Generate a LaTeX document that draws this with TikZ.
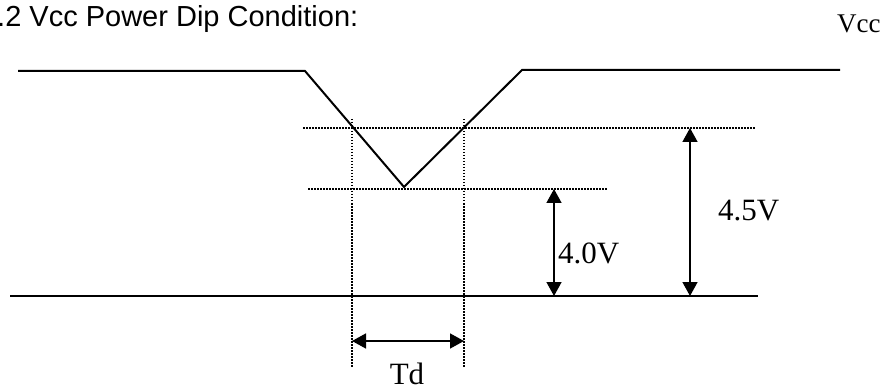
\documentclass[tikz,border=0pt]{standalone}
\usepackage{fontspec}
\setmainfont{Liberation Serif}
\newfontfamily\arialfont{Liberation Sans}
\usetikzlibrary{arrows,arrows.meta,positioning}
\tikzset{
    %Define standard arrow tip
    >={Triangle[length=14pt,width=15pt]},
    %Define style for the supply trace and ground
    trace/.style={
           line width=2pt,
           line join=miter},
    %Define style for dotted level lines
    level/.style={
           line width=1.5pt,
           dash pattern=on 1.5pt off 1.5pt},
    % Define arrow style
    pil/.style={
           <->,
           line width=1.5pt},
    % Define label style
    lbl/.style={
           inner sep=0pt,
           font=\fontsize{31}{31}\selectfont}
}

\begin{document}
\begin{tikzpicture}[x=1pt,y=-1pt]
    \useasboundingbox (0,0) rectangle (882,387);
    \node[inner sep=0pt, anchor=base west, font=\arialfont\fontsize{29}{29}\selectfont]
        (title) at (-3,27) {.2 Vcc Power Dip Condition:};
    \node[inner sep=0pt, anchor=base west, font=\fontsize{27}{27}\selectfont]
        (vcc) at (837,33) {Vcc};
    % supply trace
    \coordinate (hi1) at (18,71);
    \coordinate (fall) at (305,71);
    \coordinate (dip) at (404,187);
    \coordinate (rise) at (522,70);
    \coordinate (hi2) at (840,70);
    \draw[trace] (hi1) -- (fall) -- (dip) -- (rise) -- (hi2);
    % ground
    \coordinate (gnd1) at (10,296);
    \coordinate (gnd2) at (758,296);
    \draw[trace] (gnd1) -- (gnd2);
    % levels
    \coordinate (l45a) at (303,128);
    \coordinate (l45b) at (755,128);
    \coordinate (l40a) at (308,189);
    \coordinate (l40b) at (607,189);
    \draw[level] (l45a) -- (l45b);
    \draw[level] (l40a) -- (l40b);
    \coordinate (tda) at (352,119);
    \coordinate (tdb) at (352,368);
    \coordinate (tdc) at (464,119);
    \coordinate (tdd) at (464,368);
    \draw[level] (tda) -- (tdb);
    \draw[level] (tdc) -- (tdd);
    % arrows
    \coordinate (a40top) at (554,189);
    \coordinate (a40bot) at (554,296);
    \coordinate (a45top) at (690,128);
    \coordinate (a45bot) at (690,296);
    \coordinate (tdl) at (352,341);
    \coordinate (tdr) at (464,341);
    \draw[pil] (a40top) -- (a40bot);
    \draw[pil] (a45top) -- (a45bot);
    \draw[pil] (tdl) -- (tdr);
    \coordinate (m40) at (554,253);
    \node[lbl, right=4pt of m40] (v40) {4.0V};
    \coordinate (m45) at (690,211);
    \node[lbl, right=28pt of m45] (v45) {4.5V};
    \node[lbl, anchor=base] (td) at (407,384) {Td};
\end{tikzpicture}
\end{document}
